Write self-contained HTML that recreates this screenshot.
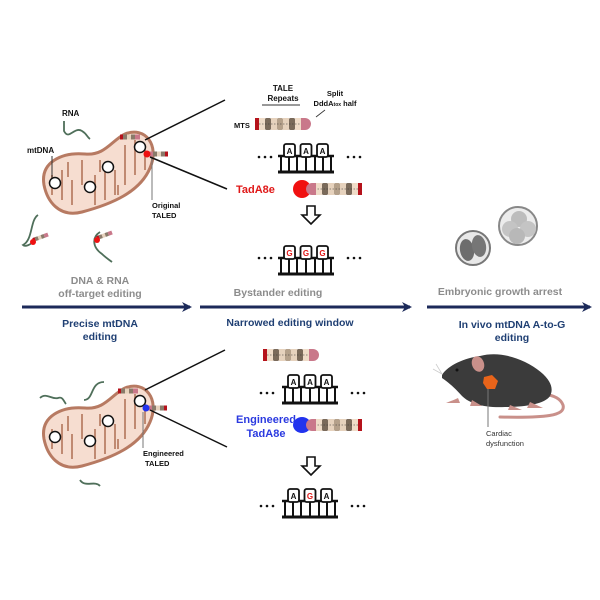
<!DOCTYPE html>
<html><head><meta charset="utf-8"><style>
html,body{margin:0;padding:0;background:#fff;}
svg{display:block;font-family:"Liberation Sans",sans-serif;}
</style></head><body>
<svg width="600" height="600" viewBox="0 0 600 600" xmlns="http://www.w3.org/2000/svg">
<defs>
  <g id="ladder">
    <line x1="0" y1="10" x2="56" y2="10" stroke="#111" stroke-width="2.5"/>
    <line x1="0" y1="26" x2="56" y2="26" stroke="#111" stroke-width="3"/>
    <g stroke="#111" stroke-width="2">
      <line x1="3" y1="10" x2="3" y2="26"/><line x1="11" y1="10" x2="11" y2="26"/>
      <line x1="19" y1="10" x2="19" y2="26"/><line x1="28" y1="10" x2="28" y2="26"/>
      <line x1="37" y1="10" x2="37" y2="26"/><line x1="45" y1="10" x2="45" y2="26"/>
      <line x1="53" y1="10" x2="53" y2="26"/>
    </g>
    <rect x="6" y="-2" width="11" height="13" rx="2" fill="#fff" stroke="#111" stroke-width="1.8"/>
    <rect x="22.5" y="-2" width="11" height="13" rx="2" fill="#fff" stroke="#111" stroke-width="1.8"/>
    <rect x="39" y="-2" width="11" height="13" rx="2" fill="#fff" stroke="#111" stroke-width="1.8"/>
  </g>
  <g id="dots">
    <circle cx="0" cy="0" r="1.3" fill="#111"/><circle cx="6" cy="0" r="1.3" fill="#111"/><circle cx="12" cy="0" r="1.3" fill="#111"/>
  </g>
  <g id="prot">
    <rect x="0" y="-6" width="4" height="12" fill="#b5121b"/>
    <rect x="4" y="-6" width="6" height="12" fill="#efdcc8"/>
    <rect x="10" y="-6" width="6" height="12" rx="1.5" fill="#7a6a5a"/>
    <rect x="16" y="-6" width="6" height="12" fill="#e6d2bd"/>
    <rect x="22" y="-6" width="6" height="12" rx="1.5" fill="#b4a08a"/>
    <rect x="28" y="-6" width="6" height="12" fill="#e6d2bd"/>
    <rect x="34" y="-6" width="6" height="12" rx="1.5" fill="#7a6a5a"/>
    <rect x="40" y="-6" width="6" height="12" fill="#efdcc8"/>
    <line x1="4" y1="0" x2="46" y2="0" stroke="#333" stroke-width="0.6" stroke-dasharray="1.5 1.5"/>
    <path d="M46,-6 h4 a6,6 0 0 1 0,12 h-4 z" fill="#c9788a"/>
  </g>
  <path id="mito" d="M44,185 C40,162 62,152 85,154 C105,156 112,140 125,134 C145,126 160,145 150,168 C140,192 112,204 82,212 C58,218 47,200 44,185 Z"/>
  <g id="mitofull">
    <use href="#mito" fill="#f6ddd0" stroke="#b77a62" stroke-width="3"/>
    <g stroke="#c08a72" stroke-width="2" fill="none">
      <path d="M52,195 v-20 M62,200 v-30 M72,205 v-25 M82,185 v-25 M95,175 v30 M105,170 v30 M115,170 v25 M125,145 v40 M135,140 v35 M145,150 v20 M68,162 v15 M100,160 v12 M118,195 v-10"/>
    </g>
    <circle cx="55" cy="183" r="5.5" fill="#fff" stroke="#111" stroke-width="1.5"/>
    <circle cx="90" cy="187" r="5.5" fill="#fff" stroke="#111" stroke-width="1.5"/>
    <circle cx="108" cy="167" r="5.5" fill="#fff" stroke="#111" stroke-width="1.5"/>
    <circle cx="140" cy="147" r="5.5" fill="#fff" stroke="#111" stroke-width="1.5"/>
  </g>
  <g id="miniprot">
    <rect x="0" y="-2.5" width="3" height="5" fill="#b5121b"/>
    <rect x="3" y="-2.5" width="4" height="5" fill="#8a7a6a"/>
    <rect x="7" y="-2.5" width="4" height="5" fill="#e6d2bd"/>
    <rect x="11" y="-2.5" width="4" height="5" fill="#8a7a6a"/>
    <rect x="15" y="-2.5" width="5" height="5" fill="#c9788a"/>
  </g>
  <marker id="ah" markerWidth="10" markerHeight="10" refX="8" refY="5" orient="auto" markerUnits="userSpaceOnUse">
    <path d="M0,0 L10,5 L0,10 L3,5 z" fill="#1c2a5a"/>
  </marker>
</defs>

<!-- TOP mitochondrion -->
<use href="#mitofull"/>
<use href="#miniprot" x="120" y="137"/>
<g transform="translate(148,154)"><use href="#miniprot" transform="scale(-1,1) translate(-20,0)"/></g>
<circle cx="147" cy="154" r="3.5" fill="#e11"/>
<line x1="152" y1="158" x2="152" y2="200" stroke="#777" stroke-width="1"/>
<text x="152" y="208" font-size="7.5" font-weight="bold" fill="#111">Original</text>
<text x="152" y="218" font-size="7.5" font-weight="bold" fill="#111">TALED</text>
<text x="62" y="116" font-size="8" font-weight="bold" fill="#111">RNA</text>
<path d="M64,121 v10 c5,10 10,-5 18,0 c5,3 5,6 8,8" stroke="#4f6f5a" stroke-width="1.8" fill="none"/>
<text x="27" y="153" font-size="8" font-weight="bold" fill="#111">mtDNA</text>
<line x1="52" y1="156" x2="52" y2="178" stroke="#333" stroke-width="1"/>
<path d="M38,215 c-8,5 -5,25 -15,30 c2,2 8,0 10,-4" stroke="#4f6f5a" stroke-width="1.8" fill="none"/>
<use href="#miniprot" transform="translate(33,240) rotate(-20) scale(0.8)"/>
<circle cx="33" cy="242" r="3" fill="#e11"/>
<path d="M100,232 c-8,5 -8,15 2,22 c3,3 6,5 10,8" stroke="#4f6f5a" stroke-width="1.8" fill="none"/>
<use href="#miniprot" transform="translate(97,238) rotate(-20) scale(0.8)"/>
<circle cx="97" cy="240" r="3" fill="#e11"/>
<line x1="145" y1="140" x2="225" y2="100" stroke="#111" stroke-width="1.5"/>
<line x1="150" y1="157" x2="227" y2="189" stroke="#111" stroke-width="1.5"/>

<!-- TOP middle -->
<text x="283" y="91" font-size="8" font-weight="bold" text-anchor="middle" fill="#111">TALE</text>
<text x="283" y="101" font-size="8" font-weight="bold" text-anchor="middle" fill="#111">Repeats</text>
<line x1="262" y1="105" x2="300" y2="105" stroke="#333" stroke-width="1"/>
<text x="335" y="96" font-size="7.5" font-weight="bold" text-anchor="middle" fill="#111">Split</text>
<text x="335" y="106" font-size="7.5" font-weight="bold" text-anchor="middle" fill="#111">DddA<tspan font-size="5">tox</tspan> half</text>
<line x1="316" y1="117" x2="325" y2="110" stroke="#333" stroke-width="0.8"/>
<text x="234" y="128" font-size="7.5" font-weight="bold" fill="#111">MTS</text>
<use href="#prot" x="255" y="124"/>
<use href="#ladder" x="278" y="146"/>
<text x="289.5" y="154" font-size="8" font-weight="bold" text-anchor="middle" fill="#111">A</text>
<text x="306" y="154" font-size="8" font-weight="bold" text-anchor="middle" fill="#111">A</text>
<text x="322.5" y="154" font-size="8" font-weight="bold" text-anchor="middle" fill="#111">A</text>
<use href="#dots" x="259" y="157"/><use href="#dots" x="348" y="157"/>
<text x="236" y="193" font-size="11" font-weight="bold" fill="#e01818">TadA8e</text>
<circle cx="302" cy="189" r="9" fill="#f01010"/>
<g transform="translate(362,189) scale(-1,1)"><use href="#prot"/></g>
<path d="M307,206 h8 v9 h5 l-9,9 l-9,-9 h5 z" fill="#fff" stroke="#111" stroke-width="1.6"/>
<use href="#ladder" x="278" y="248"/>
<text x="289.5" y="256" font-size="8" font-weight="bold" text-anchor="middle" fill="#e01818">G</text>
<text x="306" y="256" font-size="8" font-weight="bold" text-anchor="middle" fill="#e01818">G</text>
<text x="322.5" y="256" font-size="8" font-weight="bold" text-anchor="middle" fill="#e01818">G</text>
<use href="#dots" x="259" y="258"/><use href="#dots" x="348" y="258"/>

<!-- embryos -->
<circle cx="473" cy="248" r="17" fill="#e8e8e8" stroke="#777" stroke-width="2"/>
<ellipse cx="467" cy="250" rx="7" ry="11" fill="#6d6d6d" transform="rotate(-10 467 250)"/>
<ellipse cx="479" cy="246" rx="7" ry="11" fill="#767676" transform="rotate(-10 479 246)"/>
<circle cx="518" cy="226" r="19" fill="#ececec" stroke="#888" stroke-width="2"/>
<circle cx="519" cy="219" r="8" fill="#bdbdbd"/>
<circle cx="510" cy="229" r="8" fill="#c4c4c4"/>
<circle cx="528" cy="229" r="8" fill="#c4c4c4"/>
<circle cx="517" cy="236" r="8" fill="#b8b8b8"/>

<!-- arrows -->
<line x1="22" y1="307" x2="190" y2="307" stroke="#1c2a5a" stroke-width="3" marker-end="url(#ah)"/>
<line x1="200" y1="307" x2="410" y2="307" stroke="#1c2a5a" stroke-width="3" marker-end="url(#ah)"/>
<line x1="427" y1="307" x2="590" y2="307" stroke="#1c2a5a" stroke-width="3" marker-end="url(#ah)"/>
<g font-size="10.5" font-weight="bold" text-anchor="middle" fill="#8c8c8c">
  <text x="100" y="284">DNA &amp; RNA</text>
  <text x="100" y="297">off-target editing</text>
  <text x="278" y="296">Bystander editing</text>
  <text x="500" y="295">Embryonic growth arrest</text>
</g>
<g font-size="10.5" font-weight="bold" text-anchor="middle" fill="#1f3f73">
  <text x="100" y="327">Precise mtDNA</text>
  <text x="100" y="340">editing</text>
  <text x="290" y="326">Narrowed editing window</text>
  <text x="512" y="328">In vivo mtDNA A-to-G</text>
  <text x="512" y="341">editing</text>
</g>

<!-- BOTTOM mitochondrion -->
<g transform="translate(0,254)"><use href="#mitofull"/></g>
<use href="#miniprot" x="118" y="391"/>
<g transform="translate(147,408)"><use href="#miniprot" transform="scale(-1,1) translate(-20,0)"/></g>
<circle cx="146" cy="408" r="3.5" fill="#2233ee"/>
<line x1="143" y1="412" x2="143" y2="448" stroke="#777" stroke-width="1"/>
<text x="143" y="456" font-size="7.5" font-weight="bold" fill="#111">Engineered</text>
<text x="145" y="466" font-size="7.5" font-weight="bold" fill="#111">TALED</text>
<path d="M40,398 c6,-6 12,2 18,0 c5,-2 6,4 8,6" stroke="#4f6f5a" stroke-width="1.8" fill="none"/>
<path d="M84,400 c10,0 6,-18 20,-18" stroke="#4f6f5a" stroke-width="1.8" fill="none"/>
<path d="M80,480 c5,8 15,0 20,6" stroke="#4f6f5a" stroke-width="1.8" fill="none"/>
<line x1="145" y1="390" x2="225" y2="350" stroke="#111" stroke-width="1.5"/>
<line x1="150" y1="410" x2="227" y2="447" stroke="#111" stroke-width="1.5"/>

<!-- BOTTOM middle -->
<use href="#prot" x="263" y="355"/>
<use href="#ladder" x="282" y="377"/>
<text x="293.5" y="385" font-size="8" font-weight="bold" text-anchor="middle" fill="#111">A</text>
<text x="310" y="385" font-size="8" font-weight="bold" text-anchor="middle" fill="#111">A</text>
<text x="326.5" y="385" font-size="8" font-weight="bold" text-anchor="middle" fill="#111">A</text>
<use href="#dots" x="261" y="393"/><use href="#dots" x="352" y="393"/>
<text x="266" y="423" font-size="11" font-weight="bold" text-anchor="middle" fill="#2b3ae0">Engineered</text>
<text x="266" y="437" font-size="11" font-weight="bold" text-anchor="middle" fill="#2b3ae0">TadA8e</text>
<ellipse cx="302" cy="425" rx="9" ry="8" fill="#2233ee"/>
<g transform="translate(362,425) scale(-1,1)"><use href="#prot"/></g>
<path d="M307,457 h8 v9 h5 l-9,9 l-9,-9 h5 z" fill="#fff" stroke="#111" stroke-width="1.6"/>
<use href="#ladder" x="282" y="491"/>
<text x="293.5" y="499" font-size="8" font-weight="bold" text-anchor="middle" fill="#111">A</text>
<text x="310" y="499" font-size="8" font-weight="bold" text-anchor="middle" fill="#e01818">G</text>
<text x="326.5" y="499" font-size="8" font-weight="bold" text-anchor="middle" fill="#111">A</text>
<use href="#dots" x="261" y="506"/><use href="#dots" x="352" y="506"/>

<!-- mouse -->
<path d="M513,398 C535,392 558,392 563,405 C566,416 545,418 500,417" stroke="#c9908a" stroke-width="3" fill="none" stroke-linecap="round"/>
<path d="M442,375 C448,365 465,358 480,356 C495,352 510,355 525,362 C545,372 556,385 550,396 C545,404 525,407 505,407 C485,408 470,404 462,396 C455,388 448,382 442,378 Z" fill="#3b3b3b"/>
<path d="M458,398 c-4,2 -10,4 -12,5 h14 z M472,400 l-2,6 h12 z M510,405 l-2,5 h14 z M530,402 l-3,6 h16 z" fill="#c9908a"/>
<ellipse cx="478" cy="364" rx="6" ry="8" fill="#c9908a" transform="rotate(-20 478 364)"/>
<circle cx="457" cy="370" r="1.5" fill="#111"/>
<line x1="442" y1="374" x2="436" y2="364" stroke="#ccc" stroke-width="0.8"/>
<line x1="442" y1="374" x2="433" y2="369" stroke="#ccc" stroke-width="0.8"/>
<path d="M484,377 l8,-2 l6,6 l-3,8 l-8,0 l-4,-6 z" fill="#e8641a"/>
<line x1="488" y1="389" x2="488" y2="427" stroke="#777" stroke-width="1"/>
<text x="486" y="436" font-size="7.5" fill="#333">Cardiac</text>
<text x="486" y="446" font-size="7.5" fill="#333">dysfunction</text>
</svg>
</body></html>
